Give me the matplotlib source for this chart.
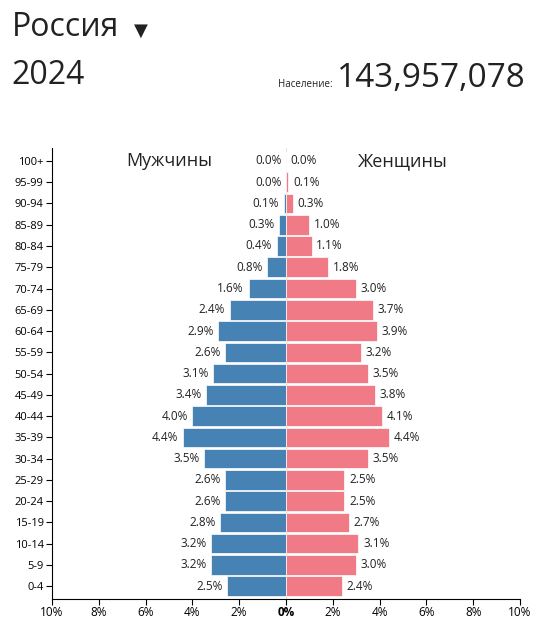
import matplotlib
matplotlib.use("Agg")
import matplotlib.pyplot as plt

plt.rcParams['font.family'] = ['Open Sans', 'DejaVu Sans']

ages = ["0-4","5-9","10-14","15-19","20-24","25-29","30-34","35-39","40-44","45-49",
        "50-54","55-59","60-64","65-69","70-74","75-79","80-84","85-89","90-94","95-99","100+"]
male = [2.5,3.2,3.2,2.8,2.6,2.6,3.5,4.4,4.0,3.4,3.1,2.6,2.9,2.4,1.6,0.8,0.4,0.3,0.1,0.0,0.0]
female = [2.4,3.0,3.1,2.7,2.5,2.5,3.5,4.4,4.1,3.8,3.5,3.2,3.9,3.7,3.0,1.8,1.1,1.0,0.3,0.1,0.0]
xticks = [-10,-8,-6,-4,-2,0,2,4,6,8,10]

fig = plt.figure(figsize=(5.36,6.2), dpi=100)
ax = fig.add_axes([0.097,0.034,0.873,0.727])
y = list(range(len(ages)))
ax.barh(y,[-m for m in male],height=0.92,color='#4682b4',edgecolor='white',linewidth=0.5)
ax.barh(y,female,height=0.92,color='#f07b87',edgecolor='white',linewidth=0.5)
for i in y:
    ax.text(-male[i]-0.2,i,f"{male[i]:.1f}%",ha='right',va='center',fontsize=8.5,color='#222')
    ax.text(female[i]+0.2,i,f"{female[i]:.1f}%",ha='left',va='center',fontsize=8.5,color='#222')
ax.set_xlim(-10,10)
ax.set_ylim(-0.6,20.6)
ax.set_yticks(y)
ax.set_yticklabels(ages,fontsize=8)
ax.set_xticks(xticks)
ax.set_xticklabels([f"{abs(t)}%" for t in xticks],fontsize=8.5)
ax.tick_params(axis='x',length=4,pad=1)
ax.tick_params(axis='y',length=4,pad=2)
for lab in ax.get_xticklabels():
    if lab.get_text()=="0%":
        lab.set_fontweight('bold')
for s in ['top','right']:
    ax.spines[s].set_visible(False)
ax.axvline(0,color='#ccc',lw=0.5,zorder=0)
ax.text(-5,20.0,"Мужчины",ha='center',va='center',fontsize=13,color='#222')
ax.text(5,20.0,"Женщины",ha='center',va='center',fontsize=13,color='#222')

fig.text(0.022,0.955,"Россия",fontsize=23,va='center',color='#222')
fig.text(0.25,0.950,"▼",fontsize=13,va='center',color='#222')
fig.text(0.022,0.878,"2024",fontsize=23,va='center',color='#222')
fig.text(0.62,0.860,"Население:",fontsize=7,va='baseline',ha='right',color='#222')
fig.text(0.98,0.860,"143,957,078",fontsize=24,va='baseline',ha='right',color='#222')
fig.savefig("out.png",dpi=100)
